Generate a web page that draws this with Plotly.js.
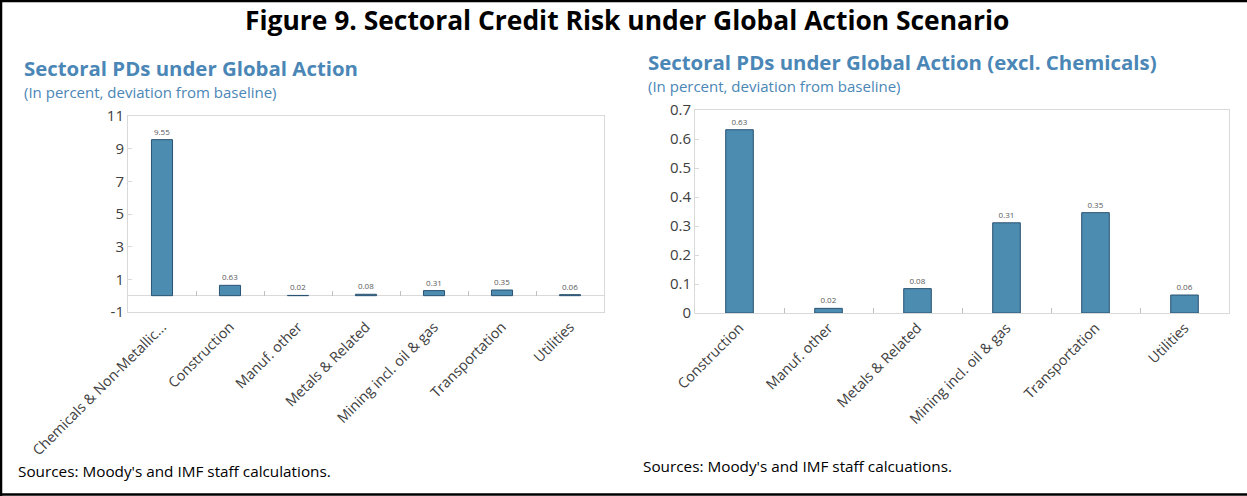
<!DOCTYPE html>
<html>
<head>
<meta charset="utf-8">
<script src="https://cdn.plot.ly/plotly-3.0.1.min.js"></script>
<style>html,body{margin:0;padding:0;background:#fff;}#chart{width:1247px;height:496px;}</style>
</head>
<body>
<div id="chart"></div>
<script>
// ---- Data ----
const leftCategories = ["Chemicals & Non-Metallic...", "Construction", "Manuf. other", "Metals & Related", "Mining incl. oil & gas", "Transportation", "Utilities"];
const leftValues = [9.553, 0.632, 0.016, 0.084, 0.311, 0.346, 0.062];
const rightCategories = ["Construction", "Manuf. other", "Metals & Related", "Mining incl. oil & gas", "Transportation", "Utilities"];
const rightValues = [0.632, 0.016, 0.084, 0.311, 0.346, 0.062];
const leftYTicks = [-1, 1, 3, 5, 7, 9, 11];
const rightYTicks = [0, 0.1, 0.2, 0.3, 0.4, 0.5, 0.6, 0.7];

const mainTitle = "Figure 9. Sectoral Credit Risk under Global Action Scenario";
const leftTitle = "Sectoral PDs under Global Action";
const rightTitle = "Sectoral PDs under Global Action (excl. Chemicals)";
const subTitle = "(In percent, deviation from baseline)";
const leftSource = "Sources: Moody's and IMF staff calculations.";
const rightSource = "Sources: Moody's and IMF staff calcuations.";

// ---- Layout helpers ----
const W = 1247, H = 496;
const px = x => x / W;
const py = y => 1 - y / H;

const FONT = "Open Sans, Noto Sans, sans-serif";
const BLUE = "#4a86b6";
const BAR = "#4b8cb0";
const BAR_LINE = "#2a5272";
const FRAME = "#d9d9d9";
const TICKTXT = "#404040";

const L = {x0: 128, x1: 604, y0: 116, y1: 312};
const R = {x0: 695, x1: 1229, y0: 110, y1: 313};
const leftRange = [-1, 11];
const leftDomY = [py(L.y1), py(L.y0)];
const zeroPos = leftDomY[0] + (0 - leftRange[0]) / (leftRange[1] - leftRange[0]) * (leftDomY[1] - leftDomY[0]);

const barCommon = {
  type: "bar",
  marker: {color: BAR, line: {color: BAR_LINE, width: 1}},
  width: 0.31,
  texttemplate: "%{y:.2f}",
  textposition: "outside",
  textfont: {size: 8, color: "#595959", family: FONT},
  cliponaxis: false,
  constraintext: "none",
  hoverinfo: "skip"
};

const traces = [
  Object.assign({}, barCommon, {x: leftCategories, y: leftValues, xaxis: "x", yaxis: "y"}),
  {type: "scatter", mode: "none", x: leftCategories, y: leftValues, xaxis: "x3", yaxis: "y", hoverinfo: "skip", showlegend: false},
  Object.assign({}, barCommon, {x: rightCategories, y: rightValues, xaxis: "x2", yaxis: "y2"})
];

const yCommon = {
  ticks: "inside", ticklen: 4, tickcolor: FRAME, showline: true, mirror: true,
  linecolor: FRAME, linewidth: 1, showgrid: false,
  tickfont: {size: 15, color: TICKTXT, family: FONT}, fixedrange: true
};
const xCommon = {
  type: "category", showline: true, mirror: true, linecolor: FRAME, linewidth: 1,
  showgrid: false, tickangle: -45, tickfont: {size: 14.3, color: TICKTXT, family: FONT}, fixedrange: true
};

const annot = (text, x, y, size, color, extra) => Object.assign({
  text: text, x: x, y: y, xref: "paper", yref: "paper", showarrow: false,
  xanchor: "left", yanchor: "middle", font: {size: size, color: color, family: FONT}
}, extra || {});

const layout = {
  width: W, height: H,
  margin: {l: 0, r: 0, t: 0, b: 0},
  paper_bgcolor: "#fff", plot_bgcolor: "#fff",
  showlegend: false,
  bargap: 0.69,
  font: {family: FONT},
  xaxis: Object.assign({}, xCommon, {domain: [px(L.x0), px(L.x1)], anchor: "y", ticks: ""}),
  xaxis3: {type: "category", overlaying: "x", matches: "x", anchor: "free", position: zeroPos,
           ticks: "inside", tickson: "boundaries", ticklen: 5, tickcolor: "#bfbfbf",
           showticklabels: false, showline: false, showgrid: false, fixedrange: true},
  yaxis: Object.assign({}, yCommon, {domain: leftDomY, anchor: "x", range: leftRange,
           tickvals: leftYTicks, ticktext: leftYTicks.map(String),
           zeroline: true, zerolinecolor: FRAME, zerolinewidth: 1}),
  xaxis2: Object.assign({}, xCommon, {domain: [px(R.x0), px(R.x1)], anchor: "y2",
           ticks: "inside", tickson: "boundaries", ticklen: 5, tickcolor: "#bfbfbf"}),
  yaxis2: Object.assign({}, yCommon, {domain: [py(R.y1), py(R.y0)], anchor: "x2", range: [0, 0.7],
           tickvals: rightYTicks, ticktext: rightYTicks.map(String), zeroline: false}),
  annotations: [
    annot("<b>" + mainTitle + "</b>", px(627), py(20), 26.4, "#000", {xanchor: "center"}),
    annot("<b>" + leftTitle + "</b>", px(22), py(68), 20.4, BLUE),
    annot(subTitle, px(22), py(92), 15, BLUE),
    annot("<b>" + rightTitle + "</b>", px(646), py(62), 20.4, BLUE),
    annot(subTitle, px(646), py(86), 15, BLUE),
    annot(leftSource, px(16), py(471), 15.3, "#000"),
    annot(rightSource, px(641), py(466), 15.3, "#000")
  ],
  shapes: [
    {type: "line", xref: "paper", yref: "paper", x0: 0, x1: 1, y0: py(1), y1: py(1), line: {color: "#000", width: 2.5}},
    {type: "line", xref: "paper", yref: "paper", x0: px(1), x1: px(1), y0: 0, y1: 1, line: {color: "#000", width: 2.5}},
    {type: "line", xref: "paper", yref: "paper", x0: 0, x1: 1, y0: py(494.5), y1: py(494.5), line: {color: "#000", width: 2.5}}
  ]
};

Plotly.newPlot("chart", traces, layout, {displayModeBar: false, staticPlot: true});
</script>
</body>
</html>
